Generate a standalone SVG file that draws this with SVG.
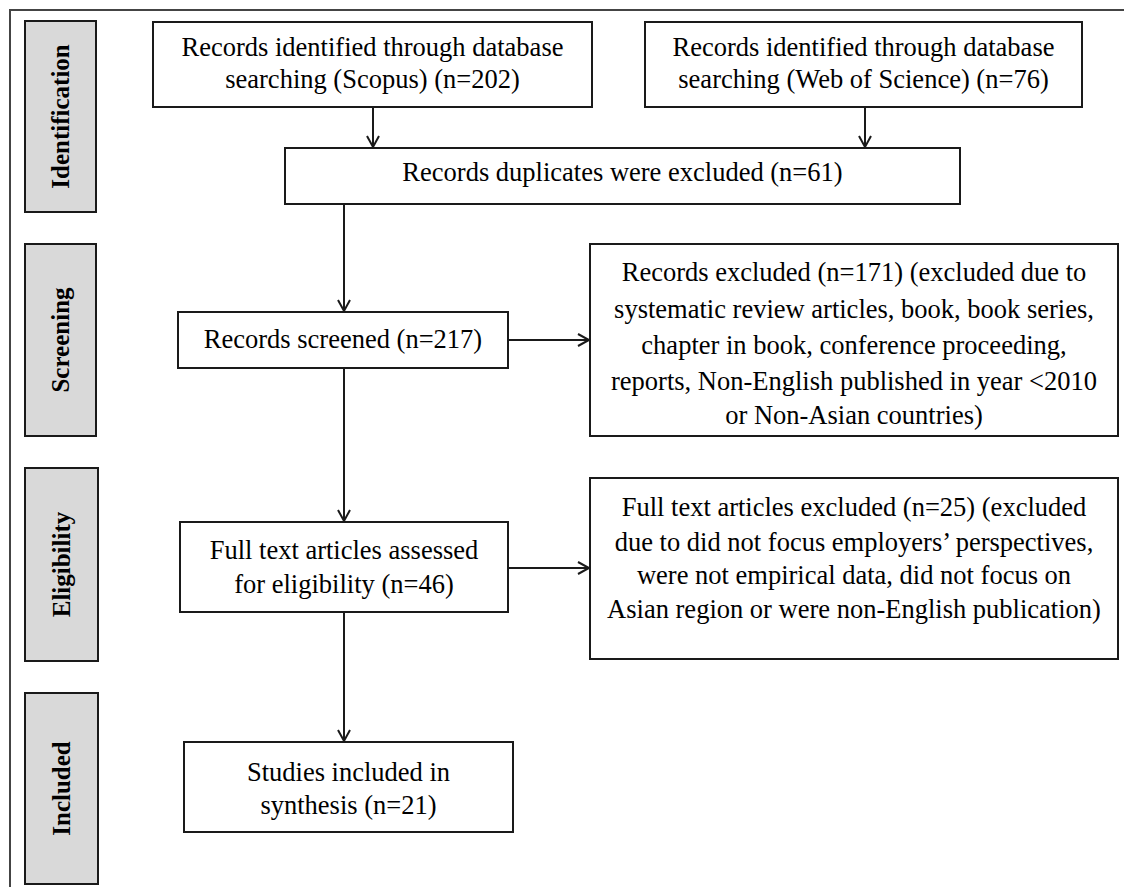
<svg xmlns="http://www.w3.org/2000/svg" width="1124" height="887" viewBox="0 0 1124 887">
<style>
.box{fill:#fff;stroke:#1a1a1a;stroke-width:2}
.stage{fill:#d9d9d9;stroke:#1a1a1a;stroke-width:2}
.t{font-family:"Liberation Serif","Times New Roman",serif;font-size:26.5px;fill:#000;text-anchor:middle}
.s{font-family:"Liberation Serif","Times New Roman",serif;font-size:25px;font-weight:bold;fill:#000;text-anchor:middle}
.c{stroke:#1a1a1a;stroke-width:2;fill:none}
</style>
<defs>
<marker id="ah" markerUnits="userSpaceOnUse" markerWidth="16" markerHeight="16" refX="12" refY="7" orient="auto">
<path d="M1,1 L12,7 L1,13" fill="none" stroke="#1a1a1a" stroke-width="2"/>
</marker>
</defs>
<rect width="1124" height="887" fill="#fff"/>
<path d="M10,887 V10 H1124" fill="none" stroke="#444" stroke-width="2"/>

<g id="stage-identification"><rect class="stage" x="25" y="21" width="71" height="191"/><text class="s" transform="translate(69,116.5) rotate(-90)">Identification</text></g>
<g id="stage-screening"><rect class="stage" x="25" y="244" width="71" height="192"/><text class="s" transform="translate(69,340) rotate(-90)">Screening</text></g>
<g id="stage-eligibility"><rect class="stage" x="25" y="468" width="73" height="193"/><text class="s" transform="translate(70,564.5) rotate(-90)">Eligibility</text></g>
<g id="stage-included"><rect class="stage" x="25" y="693" width="73" height="191"/><text class="s" transform="translate(70,788.5) rotate(-90)">Included</text></g>

<g id="scopus"><rect class="box" x="153" y="22" width="439" height="85"/>
<text class="t" x="372.5" y="56">Records identified through database</text>
<text class="t" x="372.5" y="88">searching (Scopus) (n=202)</text></g>

<g id="wos"><rect class="box" x="645" y="22" width="437" height="85"/>
<text class="t" x="863.5" y="56">Records identified through database</text>
<text class="t" x="863.5" y="88">searching (Web of Science) (n=76)</text></g>

<g id="duplicates"><rect class="box" x="285" y="148" width="675" height="56"/>
<text class="t" x="622.5" y="181">Records duplicates were excluded (n=61)</text></g>

<g id="screened"><rect class="box" x="178" y="312" width="330" height="56"/>
<text class="t" x="343" y="348">Records screened (n=217)</text></g>

<g id="excluded1"><rect class="box" x="590" y="244" width="528" height="192"/>
<text class="t" x="854" y="281">Records excluded (n=171) (excluded due to</text>
<text class="t" x="854" y="318">systematic review articles, book, book series,</text>
<text class="t" x="854" y="354">chapter in book, conference proceeding,</text>
<text class="t" x="854" y="390">reports, Non-English published in year &lt;2010</text>
<text class="t" x="854" y="424">or Non-Asian countries)</text></g>

<g id="fulltext"><rect class="box" x="180" y="522" width="328" height="90"/>
<text class="t" x="344" y="559">Full text articles assessed</text>
<text class="t" x="344" y="593">for eligibility  (n=46)</text></g>

<g id="excluded2"><rect class="box" x="590" y="478" width="528" height="181"/>
<text class="t" x="854" y="516">Full text articles excluded (n=25) (excluded</text>
<text class="t" x="854" y="551">due to did not focus employers’ perspectives,</text>
<text class="t" x="854" y="584">were not empirical data, did not focus on</text>
<text class="t" x="854" y="618">Asian region or were non-English publication)</text></g>

<g id="included"><rect class="box" x="184" y="742" width="329" height="90"/>
<text class="t" x="348.5" y="781">Studies included in</text>
<text class="t" x="348.5" y="814">synthesis (n=21)</text></g>

<g id="connectors">
<path class="c" d="M373,107 V147" marker-end="url(#ah)"/>
<path class="c" d="M865,107 V147" marker-end="url(#ah)"/>
<path class="c" d="M344,204 V311" marker-end="url(#ah)"/>
<path class="c" d="M508,340 H589" marker-end="url(#ah)"/>
<path class="c" d="M344,368 V521" marker-end="url(#ah)"/>
<path class="c" d="M508,568 H589" marker-end="url(#ah)"/>
<path class="c" d="M344,612 V741" marker-end="url(#ah)"/>
</g>
</svg>
